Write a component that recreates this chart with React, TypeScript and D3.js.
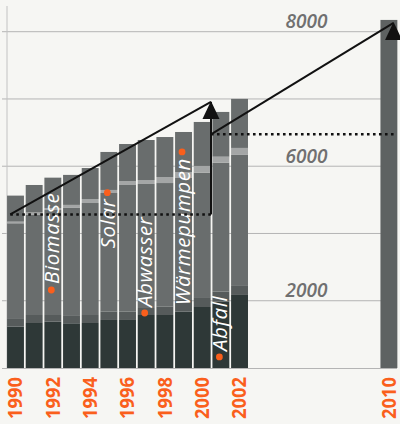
import React from 'react';
import * as d3 from 'd3';

// ---- data ----
const years = [1990, 1991, 1992, 1993, 1994, 1995, 1996, 1997, 1998, 1999, 2000, 2001, 2002];
const abfall = [614, 669, 688, 665, 669, 714, 714, 788, 788, 837, 907, 986, 1086];
const abwasser = [115, 119, 100, 109, 119, 123, 123, 104, 123, 174, 134, 149, 134];
const biomasse = [1423, 1494, 1561, 1606, 1665, 1765, 1884, 1844, 1839, 1814, 1863, 1918, 1948];
const solar = [24, 30, 30, 45, 59, 45, 59, 59, 89, 89, 100, 89, 104];
const waerme = [387, 409, 451, 446, 461, 565, 550, 595, 595, 595, 654, 665, 729];
const targetYear = 2010;
const targetTotal = 5175;
const baseValue = 3000;
const gridValues = [4000, 5000, 6000, 7000, 8000];
const tickValues = [4000, 6000, 8000];
const tickLabels = ['2000', '6000', '8000'];
const yearLabels = [1990, 1992, 1994, 1996, 1998, 2000, 2002, 2010];
// trend annotations: [year, value]
const dottedLow: [number, number][] = [[1989.72, 5283], [2000.47, 5283]];
const trendLow: [number, number][] = [[1989.72, 5283], [2000.47, 6955]];
const riseLow: [number, number][] = [[2000.47, 5283], [2000.47, 6955]];
const dottedHigh: [number, number][] = [[2000.47, 6475], [2010.4, 6475]];
const trendHigh: [number, number][] = [[2000.47, 6475], [2010.25, 8130]];
const seriesKeys = ['abfall', 'abwasser', 'biomasse', 'solar', 'waerme'];
const seriesNames = [
  { text: 'Biomasse', year: 1992, value: 4160, dotFirst: true },
  { text: 'Solar', year: 1995, value: 5607, dotFirst: false },
  { text: 'Abwasser', year: 1997, value: 3818, dotFirst: true },
  { text: 'Wärmepumpen', year: 1999, value: 6212, dotFirst: false },
  { text: 'Abfall', year: 2001, value: 3164, dotFirst: true },
];

const W = 400;
const H = 424;
const colors: Record<string, string> = {
  abfall: '#2e3837',
  abwasser: '#565b5b',
  biomasse: '#696d6d',
  solar: '#a4a6a6',
  waerme: '#696d6d',
};

export default function App() {
  const x = d3.scaleLinear().domain([1990, 2010]).range([15.5, 388.9]);
  const y = d3.scaleLinear().domain([3000, 8000]).range([368, 31.7]);
  const bw = 16.9;

  const rows = years.map((yr, i) => ({
    year: yr,
    abfall: abfall[i],
    abwasser: abwasser[i],
    biomasse: biomasse[i],
    solar: solar[i],
    waerme: waerme[i],
  }));
  const stack = d3.stack<any>().keys(seriesKeys)(rows);
  const line = d3.line<[number, number]>().x((d) => x(d[0])).y((d) => y(d[1]));

  const arrowHead = (p: [number, number]) => {
    const ax = x(p[0]);
    const ay = y(p[1]);
    return `M${ax},${ay - 1}L${ax - 8.5},${ay + 17}L${ax + 8.5},${ay + 17}Z`;
  };

  const orange = '#fa5f1c';

  return (
    <svg width={W} height={H} style={{ position: 'absolute', left: 0, top: 0 }}>
      <rect x={0} y={0} width={W} height={H} fill="#f6f6f3" />
      {/* grid */}
      {gridValues.map((v) => (
        <line key={v} x1={2} x2={397} y1={y(v)} y2={y(v)} stroke="#b4b4b4" strokeWidth={1} />
      ))}
      <line x1={7} x2={7} y1={6} y2={y(baseValue)} stroke="#c2c2c2" strokeWidth={1} />
      <line x1={2} x2={397} y1={y(baseValue) + 0.5} y2={y(baseValue) + 0.5} stroke="#b4b4b4" strokeWidth={1} />
      {/* tick labels */}
      {tickValues.map((v, i) => (
        <text
          key={v}
          x={306.5}
          y={y(v) - 3.5}
          textAnchor="middle"
          fontFamily="'Open Sans', sans-serif"
          fontStyle="italic"
          fontWeight={600}
          fontSize={19}
          fill="#707070"
        >
          {tickLabels[i]}
        </text>
      ))}
      {/* stacked bars */}
      {stack.map((s) => (
        <g key={s.key} fill={colors[s.key]}>
          {s.map((d: any) => (
            <rect
              key={d.data.year}
              x={x(d.data.year) - bw / 2}
              y={y(baseValue + d[1])}
              width={bw}
              height={y(baseValue + d[0]) - y(baseValue + d[1])}
            />
          ))}
        </g>
      ))}
      <rect
        x={x(targetYear) - bw / 2}
        y={y(baseValue + targetTotal)}
        width={bw}
        height={y(baseValue) - y(baseValue + targetTotal)}
        fill="#5e6262"
      />
      {/* series labels */}
      {seriesNames.map((s) => {
        const cx = x(s.year);
        const dy = y(s.value);
        const ty = s.dotFirst ? dy - 6 : dy + 6;
        return (
          <g key={s.text}>
            <circle cx={cx - 1.5} cy={dy} r={3.4} fill={orange} />
            <text
              transform={`translate(${cx + 6},${ty}) rotate(-90)`}
              textAnchor={s.dotFirst ? 'start' : 'end'}
              fontFamily="'Open Sans', sans-serif"
              fontStyle="italic"
              fontWeight={500}
              fontSize={20.5}
              letterSpacing={0.6}
              fill="#ffffff"
            >
              {s.text}
            </text>
          </g>
        );
      })}
      {/* trend annotations */}
      <path d={line(dottedLow) || ''} stroke="#111" strokeWidth={2.6} strokeDasharray="2.6 3.4" fill="none" />
      <path d={line(dottedHigh) || ''} stroke="#111" strokeWidth={2.6} strokeDasharray="2.6 3.4" fill="none" />
      <path d={line(trendLow) || ''} stroke="#111" strokeWidth={2} fill="none" />
      <path d={line(riseLow) || ''} stroke="#111" strokeWidth={2} fill="none" />
      <path d={line(trendHigh) || ''} stroke="#111" strokeWidth={2} fill="none" />
      <path d={arrowHead(trendLow[1])} fill="#111" />
      <path d={arrowHead(trendHigh[1])} fill="#111" />
      {/* year labels */}
      {yearLabels.map((yr) => (
        <text
          key={yr}
          transform={`translate(${x(yr) + 6.8},377) rotate(-90)`}
          textAnchor="end"
          fontFamily="'Open Sans', sans-serif"
          fontWeight={700}
          fontSize={19}
          textLength={42}
          lengthAdjust="spacingAndGlyphs"
          fill={orange}
        >
          {yr}
        </text>
      ))}
    </svg>
  );
}
